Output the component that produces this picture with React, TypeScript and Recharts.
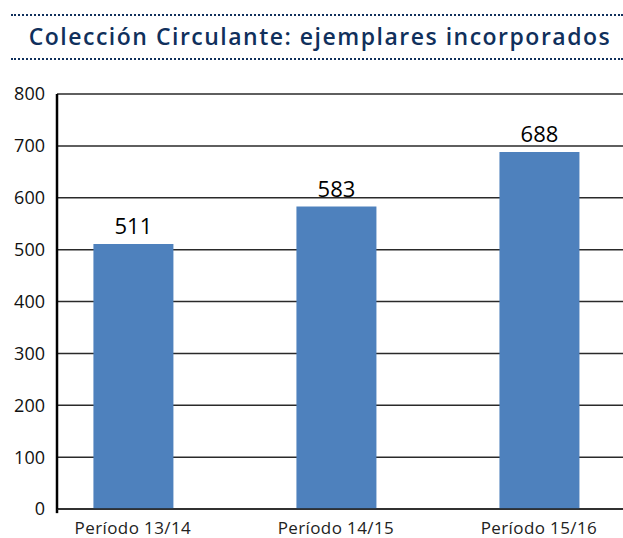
import React from "react";
import {
  BarChart,
  Bar,
  XAxis,
  YAxis,
  CartesianGrid,
  LabelList,
  ReferenceLine,
} from "recharts";

const categories = ["Período 13/14", "Período 14/15", "Período 15/16"];
const values = [511, 583, 688];
const yTicks = [0, 100, 200, 300, 400, 500, 600, 700, 800];
const title = "Colección Circulante: ejemplares incorporados";

const data = categories.map((c, i) => ({ idx: i, name: c, value: values[i] }));

const X_MIN = -0.374;
const X_MAX = 2.414;

const navy = "#10305c";

const dotLine = (top: number): React.CSSProperties => ({
  position: "absolute",
  left: 11,
  top,
  width: 612,
  height: 0,
  borderTop: `2.5px dotted ${navy}`,
});

export default function App() {
  return (
    <div
      style={{
        position: "absolute",
        left: 0,
        top: 0,
        width: 623,
        height: 538,
        background: "#fff",
        overflow: "hidden",
      }}
    >
      <div style={dotLine(14)} />
      <div
        style={{
          position: "absolute",
          left: 0,
          top: 21,
          width: 640,
          textAlign: "center",
          fontFamily: "'Open Sans', sans-serif",
          fontWeight: 600,
          fontSize: 23,
          lineHeight: "30px",
          letterSpacing: 1.5,
          color: navy,
          whiteSpace: "nowrap",
        }}
      >
        {title}
      </div>
      <div style={dotLine(58)} />
      <div style={{ position: "absolute", left: 0, top: 0 }}>
        <BarChart
          width={623}
          height={538}
          data={data}
          margin={{ top: 94, right: 0, bottom: 0, left: 0 }}
        >
          <CartesianGrid
            horizontal
            vertical={false}
            stroke="#2a2a2a"
            strokeWidth={1.5}
          />
          <XAxis
            type="number"
            dataKey="idx"
            domain={[X_MIN, X_MAX]}
            allowDataOverflow
            ticks={[0, 1, 2]}
            tickFormatter={(v: number) => categories[v] ?? ""}
            height={29}
            tickLine={false}
            tickSize={0}
            tickMargin={13}
            axisLine={{ stroke: "#222", strokeWidth: 1.5 }}
            tick={{
              fill: "#222",
              fontSize: 17,
              letterSpacing: 0.4,
              fontFamily: "'Open Sans', sans-serif",
            }}
            interval={0}
          />
          <YAxis
            domain={[0, 800]}
            ticks={yTicks}
            width={57}
            tickLine={false}
            tickSize={0}
            tickMargin={12}
            axisLine={{ stroke: "#000", strokeWidth: 2.5 }}
            tick={{
              fill: "#111",
              fontSize: 18,
              fontFamily: "'Open Sans', sans-serif",
            }}
            interval={0}
          />
          <ReferenceLine
            segment={[
              { x: X_MIN, y: 0 },
              { x: X_MIN, y: -8 },
            ]}
            stroke="#000"
            strokeWidth={2.5}
            ifOverflow="visible"
          />
          <Bar
            dataKey="value"
            fill="#4e81bd"
            barSize={80}
            isAnimationActive={false}
          >
            <LabelList
              dataKey="value"
              position="top"
              offset={10}
              fill="#000"
              fontSize={22}
              fontFamily="'Open Sans', sans-serif"
            />
          </Bar>
        </BarChart>
      </div>
    </div>
  );
}
